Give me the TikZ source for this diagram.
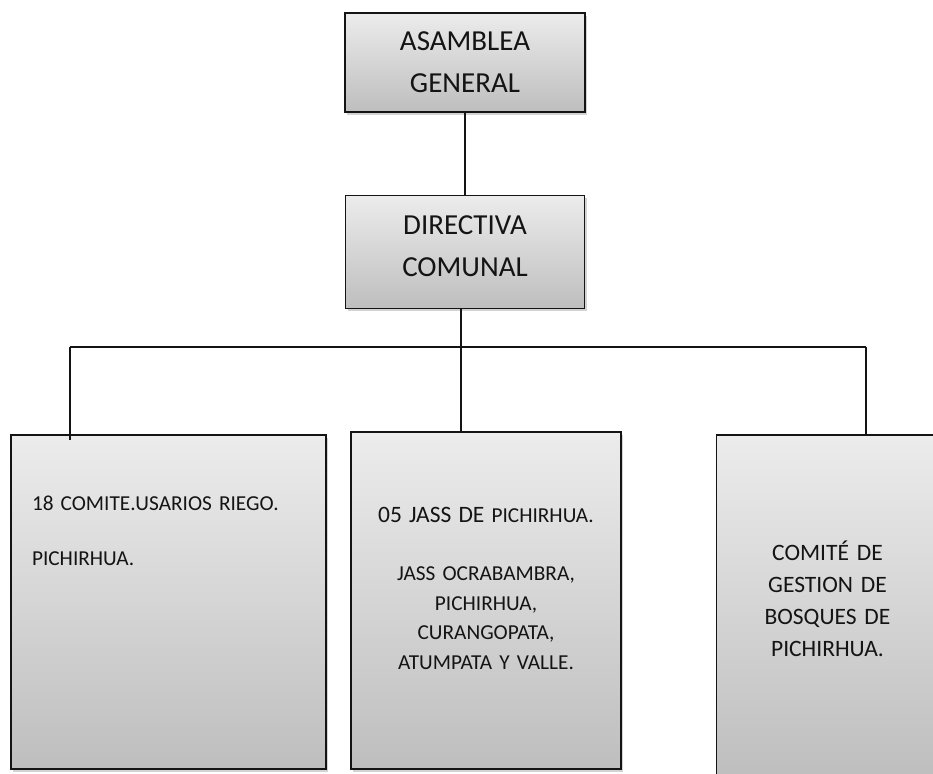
\documentclass[tikz,border=0pt]{standalone}
\usepackage{fontspec}
\setmainfont{Carlito}
\usepackage{xcolor}
\usetikzlibrary{positioning, shadows}
\definecolor{boxtop}{RGB}{236, 236, 236}
\definecolor{boxbottom}{RGB}{190, 190, 190}
\definecolor{inkblack}{RGB}{20, 20, 20}

\begin{document}
\begin{tikzpicture}[
  x=1pt, y=-1pt,
  head/.style={rectangle, draw=inkblack, line width=1.6pt, top color=boxtop, bottom color=boxbottom,
               drop shadow={shadow xshift=2pt, shadow yshift=-3pt, opacity=0.35},
               align=center, inner sep=0pt, text=inkblack,
               font=\fontsize{29}{42}\selectfont},
  unit/.style={rectangle, draw=inkblack, line width=1.6pt, top color=boxtop, bottom color=boxbottom,
               drop shadow={shadow xshift=2pt, shadow yshift=-3pt, opacity=0.35},
               align=center, inner sep=0pt, text=inkblack,
               font=\fontsize{21.3}{29.5}\selectfont},
  link/.style={line width=1.6pt, color=inkblack}
]
\useasboundingbox (0,0) rectangle (933,773);

% Top level
\node[head, anchor=north, text width=240pt, text height=38pt, text depth=61pt] (asamblea) at (465,12)
  {ASAMBLEA\\GENERAL};
\node[head, below=82pt of asamblea, text width=239pt, text height=39pt, text depth=74pt] (directiva)
  {DIRECTIVA\\COMUNAL};

% Committees
\node[unit, anchor=north, align=left, inner xsep=21pt, text width=273pt,
      text height=76pt, text depth=258pt] (riego) at (168.5,434)
  {18 COMITE.USARIOS RIEGO.\\[25pt]PICHIRHUA.};
\node[unit, anchor=north, text width=270pt, text height=91pt, text depth=246pt] (jass) at (486,431)
  {{\fontsize{23.5}{29.5}\selectfont 05 JASS DE} PICHIRHUA.\\[28.5pt]JASS OCRABAMBRA,\\PICHIRHUA,\\CURANGOPATA,\\ATUMPATA Y VALLE.};
\node[unit, anchor=north, text width=222pt, text height=126pt, text depth=216pt,
      font=\fontsize{23.5}{32}\selectfont] (bosques) at (827.5,434)
  {COMITÉ DE\\GESTION DE\\BOSQUES DE\\PICHIRHUA.};

% Connectors
\coordinate (busL) at (70,347);
\coordinate (busR) at (866,347);
\draw[link] (asamblea.south) -- (directiva.north);
\draw[link] ([xshift=-4pt]directiva.south) -- ([xshift=-25pt]jass.north);
\draw[link] (busL) -- (busR);
\draw[link] (busL) -- ([xshift=-98.5pt, yshift=-6pt]riego.north);
\draw[link] (busR) -- ([xshift=38.5pt]bosques.north);

\end{tikzpicture}
\end{document}
